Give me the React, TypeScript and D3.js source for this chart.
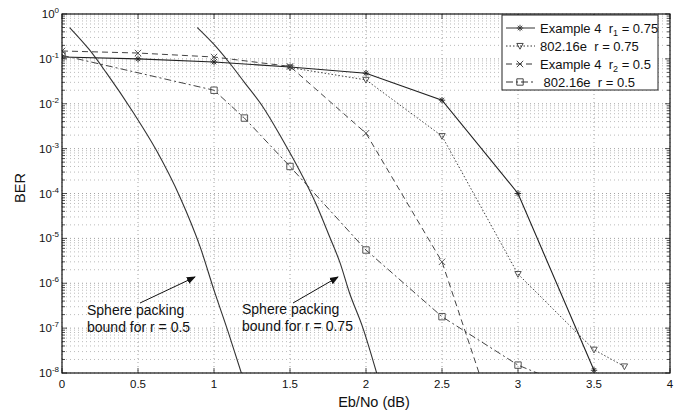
import React from "react";
import * as d3 from "d3";

const W = 682;
const H = 414;
const left = 62;
const right = 670;
const top = 14;
const bottom = 373;

const xTicks = [0, 0.5, 1, 1.5, 2, 2.5, 3, 3.5, 4];
const xTickLabels = ["0", "0.5", "1", "1.5", "2", "2.5", "3", "3.5", "4"];
const yExponents = [0, -1, -2, -3, -4, -5, -6, -7, -8];

// sphere packing bounds (smooth curves, no markers)
const sphereHalf: [number, number][] = [
  [0.05, 0.5], [0.18, 0.16], [0.29, 0.05], [0.47, 6.3e-3], [0.62, 9.3e-4],
  [0.775, 8.5e-5], [0.91, 6.3e-6], [1.0, 7e-7], [1.1, 7e-8], [1.18, 1e-8],
];
const sphereThreeQ: [number, number][] = [
  [0.89, 0.5], [1.0, 0.21], [1.1, 0.083], [1.2, 0.03], [1.32, 8.7e-3],
  [1.45, 1.6e-3], [1.56, 3.4e-4], [1.67, 6e-5], [1.76, 1.1e-5], [1.83, 2.8e-6],
  [1.89, 6.3e-7], [1.98, 1e-7], [2.07, 1e-8],
];

// simulated curves
const ex4r1: [number, number][] = [
  [0, 0.11], [0.5, 0.1], [1, 0.085], [1.5, 0.066], [2, 0.048],
  [2.5, 0.012], [3, 1.0e-4], [3.5, 1.15e-8],
];
const wimaxR075: [number, number][] = [
  [1.5, 0.064], [2, 0.034], [2.5, 1.9e-3], [3, 1.6e-6], [3.5, 3.3e-8], [3.7, 1.4e-8],
];
const ex4r2: [number, number][] = [
  [0, 0.15], [0.5, 0.135], [1, 0.11], [1.5, 0.068], [2, 2.2e-3],
  [2.5, 3e-6], [3, 2.5e-11],
];
const wimaxR05: [number, number][] = [
  [0, 0.12], [1, 0.02], [1.2, 4.8e-3], [1.5, 4e-4], [2, 5.5e-6],
  [2.5, 1.8e-7], [3, 1.5e-8], [3.5, 3e-9],
];

type Marker = "star" | "tri" | "x" | "square";

const series = [
  { data: ex4r1, marker: "star" as Marker, dash: "none", color: "#222", width: 1.1 },
  { data: wimaxR075, marker: "tri" as Marker, dash: "1.5,2", color: "#444", width: 1 },
  { data: ex4r2, marker: "x" as Marker, dash: "6,4", color: "#444", width: 1 },
  { data: wimaxR05, marker: "square" as Marker, dash: "7,3,2,3", color: "#444", width: 1 },
];

const legendRows = [
  { marker: "star" as Marker, dash: "none", pre: "Example 4  ", sub: "1", post: " = 0.75", plain: "" },
  { marker: "tri" as Marker, dash: "1.5,2", pre: "", sub: "", post: "", plain: "802.16e  r = 0.75" },
  { marker: "x" as Marker, dash: "6,4", pre: "Example 4  ", sub: "2", post: " = 0.5", plain: "" },
  { marker: "square" as Marker, dash: "7,3,2,3", pre: "", sub: "", post: "", plain: " 802.16e  r = 0.5" },
];

const FONT = "'Liberation Sans', Arial, sans-serif";

function markerPath(m: Marker, cx: number, cy: number, s = 3.2) {
  if (m === "star") {
    return `M${cx - s},${cy}L${cx + s},${cy}M${cx},${cy - s}L${cx},${cy + s}` +
      `M${cx - s * 0.7},${cy - s * 0.7}L${cx + s * 0.7},${cy + s * 0.7}` +
      `M${cx - s * 0.7},${cy + s * 0.7}L${cx + s * 0.7},${cy - s * 0.7}`;
  }
  if (m === "x") {
    return `M${cx - s},${cy - s}L${cx + s},${cy + s}M${cx - s},${cy + s}L${cx + s},${cy - s}`;
  }
  if (m === "tri") {
    return `M${cx - s},${cy - s * 0.8}L${cx + s},${cy - s * 0.8}L${cx},${cy + s}Z`;
  }
  return `M${cx - s},${cy - s}L${cx + s},${cy - s}L${cx + s},${cy + s}L${cx - s},${cy + s}Z`;
}

export default function App() {
  const x = d3.scaleLinear().domain([0, 4]).range([left, right]);
  const y = d3.scaleLog().domain([1e-8, 1]).range([bottom, top]);

  const line = d3.line<[number, number]>().x((d) => x(d[0])).y((d) => y(d[1]));
  const smooth = d3.line<[number, number]>()
    .x((d) => x(d[0])).y((d) => y(d[1])).curve(d3.curveMonotoneX);

  const minorY: number[] = [];
  for (let e = -8; e < 0; e++) {
    for (let k = 2; k <= 9; k++) minorY.push(k * Math.pow(10, e));
  }

  return (
    <svg width={W} height={H} style={{ position: "absolute", left: 0, top: 0, background: "#fff" }}
      fontFamily={FONT}>
      <defs>
        <clipPath id="plotClip">
          <rect x={left} y={top} width={right - left} height={bottom - top} />
        </clipPath>
        <marker id="arrow" viewBox="0 0 10 10" refX="9" refY="5" markerWidth="9" markerHeight="9"
          orient="auto" markerUnits="userSpaceOnUse">
          <path d="M0,1L10,5L0,9Z" fill="#111" />
        </marker>
      </defs>

      {/* grid */}
      <g stroke="#8a8a8a" strokeWidth={0.8} strokeDasharray="1,3">
        {xTicks.map((t) => (
          <line key={"gx" + t} x1={x(t)} x2={x(t)} y1={top} y2={bottom} />
        ))}
        {yExponents.map((e) => (
          <line key={"gy" + e} x1={left} x2={right} y1={y(Math.pow(10, e))} y2={y(Math.pow(10, e))} />
        ))}
        {minorY.map((v, i) => (
          <line key={"gm" + i} x1={left} x2={right} y1={y(v)} y2={y(v)} stroke="#aaa" />
        ))}
      </g>

      {/* ticks */}
      <g stroke="#222" strokeWidth={0.8}>
        {xTicks.map((t) => (
          <g key={"tx" + t}>
            <line x1={x(t)} x2={x(t)} y1={bottom} y2={bottom - 5} />
            <line x1={x(t)} x2={x(t)} y1={top} y2={top + 5} />
          </g>
        ))}
        {yExponents.map((e) => (
          <g key={"ty" + e}>
            <line x1={left} x2={left + 5} y1={y(Math.pow(10, e))} y2={y(Math.pow(10, e))} />
            <line x1={right} x2={right - 5} y1={y(Math.pow(10, e))} y2={y(Math.pow(10, e))} />
          </g>
        ))}
        {minorY.map((v, i) => (
          <g key={"tm" + i}>
            <line x1={left} x2={left + 3} y1={y(v)} y2={y(v)} />
            <line x1={right} x2={right - 3} y1={y(v)} y2={y(v)} />
          </g>
        ))}
      </g>

      {/* curves */}
      <g clipPath="url(#plotClip)" fill="none">
        <path d={smooth(sphereHalf) || ""} stroke="#333" strokeWidth={1.1} />
        <path d={smooth(sphereThreeQ) || ""} stroke="#333" strokeWidth={1.1} />
        {series.map((s, i) => (
          <g key={"s" + i}>
            <path d={line(s.data) || ""} stroke={s.color} strokeWidth={s.width}
              strokeDasharray={s.dash === "none" ? undefined : s.dash} />
            {s.data.map((d, j) => (
              <path key={j} d={markerPath(s.marker, x(d[0]), y(d[1]))} stroke={s.color}
                strokeWidth={0.9} fill="none" />
            ))}
          </g>
        ))}
      </g>

      {/* axes box */}
      <rect x={left} y={top} width={right - left} height={bottom - top} fill="none" stroke="#111" strokeWidth={1.2} />

      {/* tick labels */}
      <g fontSize={11.5} fill="#111">
        {xTicks.map((t, i) => (
          <text key={"lx" + t} x={x(t)} y={bottom + 15} textAnchor="middle">{xTickLabels[i]}</text>
        ))}
        {yExponents.map((e) => (
          <text key={"ly" + e} x={59} y={y(Math.pow(10, e)) + 4} textAnchor="end">
            10<tspan dy={-5} fontSize={8}>{e === 0 ? "0" : "-" + Math.abs(e)}</tspan>
          </text>
        ))}
      </g>

      {/* axis labels */}
      <text x={374} y={407} textAnchor="middle" fontSize={14.5} fill="#111">Eb/No (dB)</text>
      <text transform={`translate(25,188) rotate(-90)`} textAnchor="middle" fontSize={14.5} fill="#111">BER</text>

      {/* legend */}
      <g>
        <rect x={502} y={15} width={156} height={75} fill="#fff" stroke="#222" strokeWidth={1} />
        {legendRows.map((r, i) => {
          const ly = 28 + i * 18;
          return (
            <g key={"lg" + i}>
              <line x1={506} x2={535} y1={ly} y2={ly} stroke="#333" strokeWidth={1}
                strokeDasharray={r.dash === "none" ? undefined : r.dash} />
              <path d={markerPath(r.marker, 520, ly)} stroke="#333" strokeWidth={0.9} fill="none" />
              <text x={540} y={ly + 4.5} fontSize={13} fill="#111" style={{ whiteSpace: "pre" }}>
                {r.plain !== "" ? r.plain : (
                  <>
                    {r.pre}r<tspan dy={3} fontSize={9}>{r.sub}</tspan><tspan dy={-3}>{r.post}</tspan>
                  </>
                )}
              </text>
            </g>
          );
        })}
      </g>

      {/* annotations */}
      <g fontSize={14} fill="#111">
        <text x={87} y={315}>Sphere packing</text>
        <text x={87} y={332}>bound for r = 0.5</text>
        <text x={242} y={314}>Sphere packing</text>
        <text x={242} y={331}>bound for r = 0.75</text>
      </g>
      <line x1={140} y1={303} x2={195} y2={277} stroke="#111" strokeWidth={1} markerEnd="url(#arrow)" />
      <line x1={293} y1={303} x2={338} y2={277} stroke="#111" strokeWidth={1} markerEnd="url(#arrow)" />
    </svg>
  );
}
